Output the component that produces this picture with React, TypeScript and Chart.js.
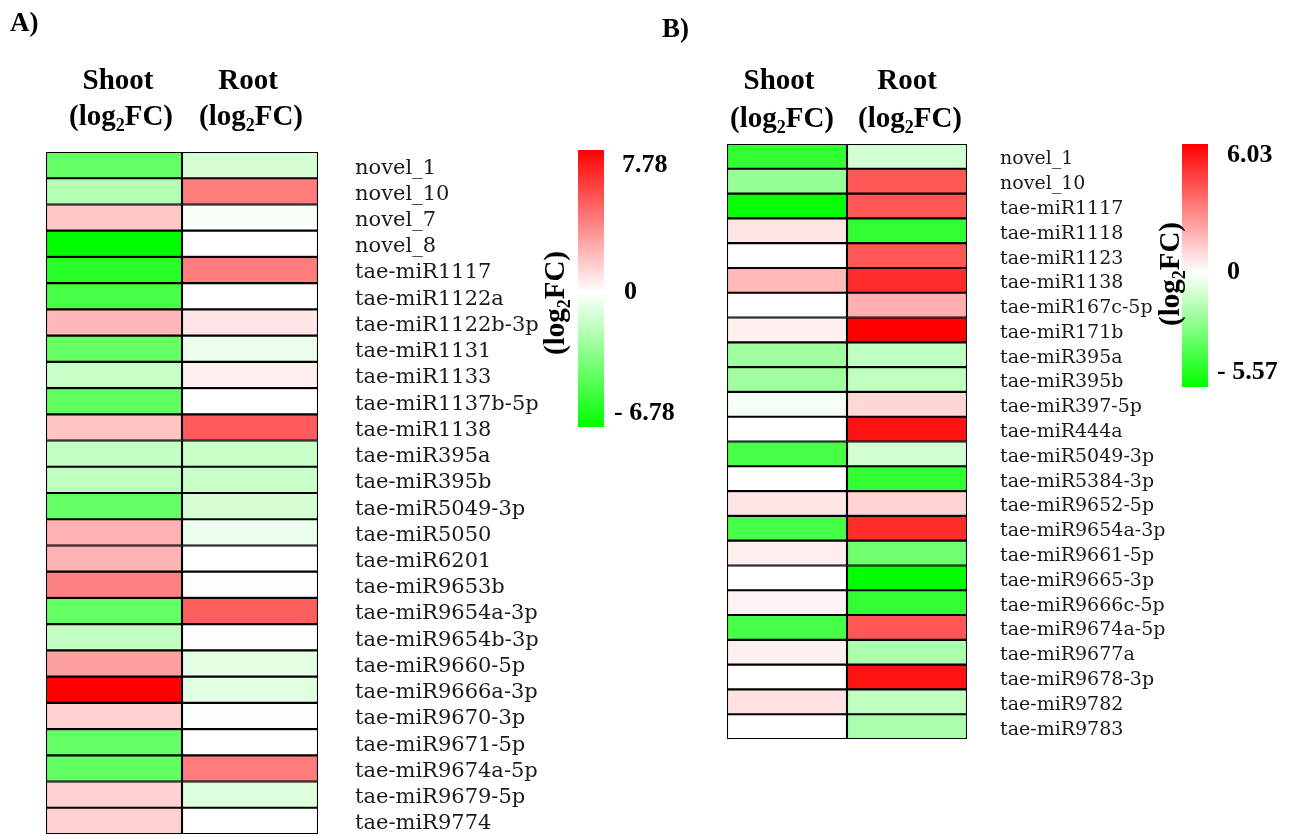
import React, { useEffect, useRef } from 'react';
import { Chart, registerables } from 'chart.js';

Chart.register(...registerables);

// ---------- Data ----------
const tissues = ['Shoot', 'Root'];

const rowsA = [
  'novel_1', 'novel_10', 'novel_7', 'novel_8', 'tae-miR1117', 'tae-miR1122a',
  'tae-miR1122b-3p', 'tae-miR1131', 'tae-miR1133', 'tae-miR1137b-5p', 'tae-miR1138',
  'tae-miR395a', 'tae-miR395b', 'tae-miR5049-3p', 'tae-miR5050', 'tae-miR6201',
  'tae-miR9653b', 'tae-miR9654a-3p', 'tae-miR9654b-3p', 'tae-miR9660-5p',
  'tae-miR9666a-3p', 'tae-miR9670-3p', 'tae-miR9671-5p', 'tae-miR9674a-5p',
  'tae-miR9679-5p', 'tae-miR9774',
];
const shootA = [
  -4.1, -2.0, 1.7, -6.78, -5.7, -4.9, 2.2, -4.1, -1.5, -4.2, 1.8, -1.6, -1.7,
  -4.1, 2.4, 2.3, 3.8, -4.1, -1.6, 2.9, 7.78, 1.4, -4.1, -4.2, 1.4, 1.4,
];
const rootA = [
  -1.1, 4.0, -0.2, 0, 4.0, 0, 0.8, -0.5, 0.5, 0, 5.0, -1.5, -1.5,
  -1.1, -0.5, 0, -0.1, 4.9, -0.1, -0.7, -0.8, -0.1, 0, 4.0, -0.9, 0,
];
const rangeA = { min: -6.78, max: 7.78 };
const colorbarLabelsA = ['7.78', '0', '- 6.78'];

const rowsB = [
  'novel_1', 'novel_10', 'tae-miR1117', 'tae-miR1118', 'tae-miR1123', 'tae-miR1138',
  'tae-miR167c-5p', 'tae-miR171b', 'tae-miR395a', 'tae-miR395b', 'tae-miR397-5p',
  'tae-miR444a', 'tae-miR5049-3p', 'tae-miR5384-3p', 'tae-miR9652-5p',
  'tae-miR9654a-3p', 'tae-miR9661-5p', 'tae-miR9665-3p', 'tae-miR9666c-5p',
  'tae-miR9674a-5p', 'tae-miR9677a', 'tae-miR9678-3p', 'tae-miR9782', 'tae-miR9783',
];
const shootB = [
  -4.5, -2.3, -5.4, 0.6, 0, 1.65, 0, 0.35, -2.1, -2.1, -0.2, 0,
  -4.0, 0, 0.6, -4.0, 0.4, 0, 0.3, -4.0, 0.35, 0, 0.7, 0,
];
const rootB = [
  -1.0, 4.0, 4.0, -4.5, 4.0, 5.0, 1.9, 6.0, -1.4, -1.4, 0.95, 5.6,
  -1.0, -4.5, 1.05, 5.0, -3.2, -5.57, -4.5, 4.0, -1.85, 5.6, -1.4, -1.85,
];
const rangeB = { min: -5.57, max: 6.03 };
const colorbarLabelsB = ['6.03', '0', '- 5.57'];

// ---------- Helpers ----------
function cellColor(v: number, min: number, max: number): string {
  if (v >= 0) {
    const t = Math.min(v / max, 1);
    const c = Math.round(255 * (1 - t));
    return `rgb(255,${c},${c})`;
  }
  const t = Math.min(v / min, 1);
  const c = Math.round(255 * (1 - t));
  return `rgb(${c},255,${c})`;
}

const SERIF = '"Liberation Serif", "Times New Roman", serif';

function drawLog2FC(ctx: CanvasRenderingContext2D, cx: number, cy: number) {
  const big = `bold 29px ${SERIF}`;
  const small = `bold 18px ${SERIF}`;
  ctx.font = big;
  const w1 = ctx.measureText('(log').width;
  const w3 = ctx.measureText('FC)').width;
  ctx.font = small;
  const w2 = ctx.measureText('2').width;
  let x0 = cx - (w1 + w2 + w3) / 2;
  ctx.textAlign = 'left';
  ctx.textBaseline = 'middle';
  ctx.font = big;
  ctx.fillText('(log', x0, cy);
  x0 += w1;
  ctx.font = small;
  ctx.fillText('2', x0, cy + 8);
  x0 += w2;
  ctx.font = big;
  ctx.fillText('FC)', x0, cy);
}

const decorPlugin = {
  id: 'decor',
  afterDraw(chart: any, _args: any, opts: any) {
    const ctx: CanvasRenderingContext2D = chart.ctx;
    const xs = chart.scales.x;
    ctx.save();
    ctx.fillStyle = '#000';
    // panel letter
    ctx.font = `bold 27px ${SERIF}`;
    ctx.textAlign = 'left';
    ctx.textBaseline = 'middle';
    ctx.fillText(opts.panel, opts.panelX, opts.panelY);
    // column headers
    tissues.forEach((h, i) => {
      const cx = xs.getPixelForValue(i + 0.5) + opts.headerDx[i];
      ctx.font = `bold 29px ${SERIF}`;
      ctx.textAlign = 'center';
      ctx.textBaseline = 'middle';
      ctx.fillText(h, cx, opts.headerY1);
      drawLog2FC(ctx, cx + 3, opts.headerY2);
    });
    // colour bar
    const cb = opts.cb;
    const g = ctx.createLinearGradient(0, cb.top, 0, cb.top + cb.h);
    g.addColorStop(0, 'rgb(255,0,0)');
    g.addColorStop(cb.zero, 'rgb(255,255,255)');
    g.addColorStop(1, 'rgb(0,255,0)');
    ctx.fillStyle = g;
    ctx.fillRect(cb.left, cb.top, cb.w, cb.h);
    ctx.fillStyle = '#000';
    ctx.font = `bold 26px ${SERIF}`;
    ctx.textAlign = 'left';
    ctx.textBaseline = 'middle';
    opts.cbLabels.forEach((t: string, i: number) => {
      ctx.fillText(t, opts.cbLabelX[i], opts.cbLabelY[i]);
    });
    // rotated axis title
    ctx.translate(opts.rotX, opts.rotY);
    ctx.rotate(-Math.PI / 2);
    drawLog2FC(ctx, 0, 0);
    ctx.restore();
  },
};

function makeConfig(
  rows: string[], shoot: number[], root: number[], range: { min: number; max: number },
  layoutPad: { left: number; top: number; bottom: number; right: number }, axisWidth: number,
  tickPad: number, tickFont: number, decor: any,
): any {
  const common = {
    borderColor: '#000',
    borderWidth: 1.4,
    borderSkipped: false,
    barPercentage: 1,
    categoryPercentage: 1,
  };
  return {
    type: 'bar',
    data: {
      labels: rows,
      datasets: [
        {
          label: tissues[0],
          data: shoot.map(() => 1),
          backgroundColor: shoot.map((v) => cellColor(v, range.min, range.max)),
          ...common,
        },
        {
          label: tissues[1],
          data: root.map(() => 1),
          backgroundColor: root.map((v) => cellColor(v, range.min, range.max)),
          ...common,
        },
      ],
    },
    options: {
      indexAxis: 'y',
      responsive: false,
      animation: false,
      devicePixelRatio: 1,
      layout: { padding: layoutPad },
      plugins: {
        legend: { display: false },
        tooltip: { enabled: false },
        decor,
      },
      scales: {
        x: { type: 'linear', min: 0, max: 2, stacked: true, display: false },
        y: {
          type: 'category',
          position: 'right',
          stacked: true,
          grid: { display: false, drawTicks: false },
          border: { display: false },
          ticks: {
            autoSkip: false,
            padding: tickPad,
            labelOffset: 3,
            color: '#1a1a1a',
            font: { family: '"DejaVu Serif", serif', size: tickFont },
          },
          afterFit: (scale: any) => {
            scale.width = axisWidth;
            scale.paddingTop = 0;
            scale.paddingBottom = 0;
          },
        },
      },
    },
    plugins: [decorPlugin],
  };
}

function Panel(props: { left: number; width: number; config: any }) {
  const ref = useRef<HTMLCanvasElement>(null);
  useEffect(() => {
    if (!ref.current) return;
    const chart = new Chart(ref.current, props.config);
    return () => chart.destroy();
  }, []);
  return (
    <canvas
      ref={ref}
      width={props.width}
      height={836}
      style={{ position: 'absolute', left: props.left, top: 0, width: props.width, height: 836 }}
    />
  );
}

// Panel A canvas: 0..720 ; chart area 46..318
const configA = makeConfig(
  rowsA, shootA, rootA, rangeA, { left: 46, top: 152, bottom: 2, right: 71 }, 331, 37, 21,
  {
    panel: 'A)', panelX: 10, panelY: 24,
    headerDx: [4, -2], headerY1: 82, headerY2: 118,
    cb: { left: 578, top: 150, w: 26, h: 277, zero: 0.513 },
    cbLabels: colorbarLabelsA,
    cbLabelX: [622, 624, 614], cbLabelY: [165, 292, 413],
    rotX: 557, rotY: 303,
  },
);

// Panel B canvas: 649..1298 ; chart area 727..967 (absolute)
const configB = makeConfig(
  rowsB, shootB, rootB, rangeB, { left: 78, top: 144, bottom: 97, right: 0 }, 331, 33, 19,
  {
    panel: 'B)', panelX: 13, panelY: 30,
    headerDx: [-8, 0], headerY1: 82, headerY2: 120,
    cb: { left: 533, top: 144, w: 26, h: 243, zero: 0.527 },
    cbLabels: colorbarLabelsB,
    cbLabelX: [578, 578, 568], cbLabelY: [155, 272, 372],
    rotX: 523, rotY: 274,
  },
);

export default function App() {
  return (
    <div style={{ position: 'fixed', left: 0, top: 0, width: 1298, height: 836, background: '#fff', overflow: 'hidden' }}>
      <Panel left={0} width={720} config={configA} />
      <Panel left={649} width={649} config={configB} />
    </div>
  );
}
